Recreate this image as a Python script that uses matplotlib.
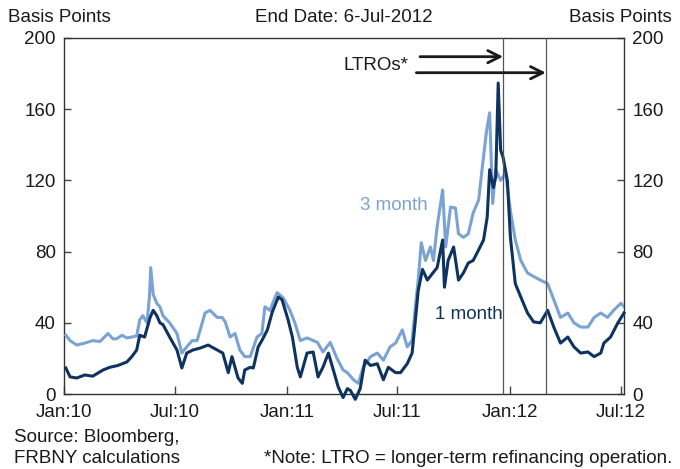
import matplotlib
matplotlib.use("Agg")
import matplotlib.pyplot as plt
import pandas as pd

plt.rcParams["font.family"] = ["Liberation Sans", "DejaVu Sans"]

# 3-month spread (basis points)
dates_3m = [
    "2010-01-04", "2010-01-11", "2010-01-22", "2010-02-04", "2010-02-17", "2010-03-01",
    "2010-03-14", "2010-03-22", "2010-03-28", "2010-04-06", "2010-04-14", "2010-04-22",
    "2010-04-30", "2010-05-05", "2010-05-10", "2010-05-17", "2010-05-21", "2010-05-23",
    "2010-05-27", "2010-06-02", "2010-06-07", "2010-06-12", "2010-06-23", "2010-07-05",
    "2010-07-13", "2010-07-21", "2010-07-30", "2010-08-07", "2010-08-12", "2010-08-20",
    "2010-08-28", "2010-09-09", "2010-09-17", "2010-09-22", "2010-09-30", "2010-10-08",
    "2010-10-16", "2010-10-24", "2010-11-02", "2010-11-13", "2010-11-21", "2010-11-26",
    "2010-12-04", "2010-12-16", "2010-12-26", "2011-01-06", "2011-01-14", "2011-01-23",
    "2011-02-03", "2011-02-20", "2011-03-01", "2011-03-13", "2011-03-24", "2011-04-03",
    "2011-04-10", "2011-04-20", "2011-04-28", "2011-05-06", "2011-05-18", "2011-05-29",
    "2011-06-08", "2011-06-19", "2011-06-28", "2011-07-09", "2011-07-17", "2011-07-25",
    "2011-07-30", "2011-08-04", "2011-08-09", "2011-08-16", "2011-08-24", "2011-08-29",
    "2011-09-04", "2011-09-13", "2011-09-18", "2011-09-26", "2011-10-04", "2011-10-09",
    "2011-10-17", "2011-10-25", "2011-11-02", "2011-11-11", "2011-11-17", "2011-11-24",
    "2011-11-29", "2011-12-04", "2011-12-09", "2011-12-17", "2011-12-25", "2012-01-02",
    "2012-01-10", "2012-01-19", "2012-01-30", "2012-02-09", "2012-02-20", "2012-03-03",
    "2012-03-13", "2012-03-24", "2012-04-05", "2012-04-15", "2012-04-26", "2012-05-08",
    "2012-05-18", "2012-05-29", "2012-06-09", "2012-06-19", "2012-07-01", "2012-07-06",
]
values_3m = [
    33, 30, 27.5, 28.6, 30, 29.5,
    34, 31, 31, 33, 31.5, 32,
    32.6, 41.6, 44, 40, 55, 71,
    56, 51, 49, 44, 40, 34,
    23, 26.5, 30, 30, 36, 45.5,
    47, 43, 43, 40.5, 32, 34,
    24.7, 21, 21, 32, 34, 49,
    47, 57, 54, 47, 40, 30,
    31.5, 29, 23.6, 29, 20, 13.5,
    12, 8, 6, 15, 21, 23,
    19, 26.5, 28.6, 36, 26.5, 30,
    48, 64, 85, 75, 82.6, 75,
    94, 114.6, 82.6, 105, 104.5, 90,
    88, 90, 101.7, 109, 127.5, 148,
    158, 107, 126, 120, 124, 103,
    86.5, 75, 68, 66, 64, 62,
    53, 43, 45.5, 40, 37.6, 37.6,
    43, 45.5, 43, 47, 51, 49,
]

# 1-month spread (basis points)
dates_1m = [
    "2010-01-04", "2010-01-11", "2010-01-22", "2010-02-04", "2010-02-17", "2010-03-06",
    "2010-03-17", "2010-03-30", "2010-04-14", "2010-04-22", "2010-04-30", "2010-05-05",
    "2010-05-13", "2010-05-22", "2010-05-27", "2010-06-02", "2010-06-07", "2010-06-12",
    "2010-06-23", "2010-07-05", "2010-07-13", "2010-07-21", "2010-07-31", "2010-08-12",
    "2010-08-25", "2010-09-09", "2010-09-18", "2010-09-27", "2010-10-03", "2010-10-13",
    "2010-10-20", "2010-10-24", "2010-11-02", "2010-11-07", "2010-11-15", "2010-11-21",
    "2010-11-30", "2010-12-08", "2010-12-18", "2010-12-24", "2011-01-03", "2011-01-10",
    "2011-01-18", "2011-01-23", "2011-02-03", "2011-02-13", "2011-02-21", "2011-03-01",
    "2011-03-10", "2011-03-18", "2011-03-26", "2011-04-03", "2011-04-10", "2011-04-15",
    "2011-04-23", "2011-05-01", "2011-05-09", "2011-05-18", "2011-05-29", "2011-06-08",
    "2011-06-16", "2011-06-28", "2011-07-06", "2011-07-17", "2011-07-25", "2011-07-30",
    "2011-08-04", "2011-08-11", "2011-08-19", "2011-08-28", "2011-09-04", "2011-09-13",
    "2011-09-16", "2011-09-22", "2011-10-01", "2011-10-09", "2011-10-17", "2011-10-25",
    "2011-11-02", "2011-11-11", "2011-11-19", "2011-11-25", "2011-11-29", "2011-12-05",
    "2011-12-09", "2011-12-13", "2011-12-17", "2011-12-21", "2011-12-28", "2012-01-02",
    "2012-01-10", "2012-01-19", "2012-01-30", "2012-02-09", "2012-02-20", "2012-03-03",
    "2012-03-13", "2012-03-24", "2012-04-05", "2012-04-15", "2012-04-26", "2012-05-08",
    "2012-05-18", "2012-05-29", "2012-06-03", "2012-06-14", "2012-06-26", "2012-07-06",
]
values_1m = [
    14.6, 9.6, 9, 10.7, 10, 13.5,
    15, 16, 18, 21, 24.7, 33,
    32, 43, 47, 44, 40, 39,
    32, 24.7, 14.6, 23, 24.7, 25.8,
    27.5, 24.7, 23, 12, 21, 9,
    6, 13.5, 15, 14.6, 26.5, 30,
    36, 46, 54.5, 53, 41.6, 32,
    15, 9.6, 23, 23.6, 9.6, 15,
    23, 13.5, 4, -2, 3, 2,
    -3, 3, 19, 16, 17, 8,
    15, 12, 12, 17, 23, 40,
    58, 70, 64, 68, 71, 86.5,
    60, 75, 82.6, 64, 68, 73.6,
    75, 81, 86.5, 99.4, 126, 116,
    122, 174.7, 137, 133, 120, 88,
    62, 54.5, 45.5, 40.5, 40, 47,
    37.6, 28.6, 32, 26.5, 23, 23.6,
    21, 23, 28.6, 32, 40, 45.5,
]

ltro_dates = ["2011-12-21", "2012-02-29"]
tick_dates = ["2010-01-01", "2010-07-01", "2011-01-01", "2011-07-01", "2012-01-01", "2012-07-01"]
tick_labels = ["Jan:10", "Jul:10", "Jan:11", "Jul:11", "Jan:12", "Jul:12"]
y_ticks = [0, 40, 80, 120, 160, 200]

light = "#7aa3d3"
dark = "#0f3360"
txt = "#1a1a1a"
fs = 13.5

fig = plt.figure(figsize=(6.8, 4.69), dpi=100)
ax = fig.add_axes([64 / 680, 75 / 469, 560 / 680, 356 / 469])

d3 = pd.to_datetime(dates_3m)
d1 = pd.to_datetime(dates_1m)
ax.plot(d3, values_3m, color=light, lw=2.2, solid_joinstyle="round", zorder=3)
ax.plot(d1, values_1m, color=dark, lw=2.2, solid_joinstyle="round", zorder=4, clip_on=False)

ax.set_xlim(pd.Timestamp("2010-01-01"), pd.Timestamp("2012-07-06"))
ax.set_ylim(0, 200)

for d in ltro_dates:
    ax.axvline(pd.Timestamp(d), color="#555555", lw=0.9, zorder=5)

# arrows pointing at each LTRO allotment date
arrow_props = dict(arrowstyle="->", color="#1a1a1a", lw=2.0, mutation_scale=22,
                   shrinkA=0, shrinkB=0)
ax.annotate("", xy=(pd.Timestamp(ltro_dates[0]), 189.5),
            xytext=(pd.Timestamp("2011-08-07"), 189.5), arrowprops=arrow_props, zorder=6)
ax.annotate("", xy=(pd.Timestamp(ltro_dates[1]), 180.5),
            xytext=(pd.Timestamp("2011-08-01"), 180.5), arrowprops=arrow_props, zorder=6)
ax.text(pd.Timestamp("2011-04-03"), 184.5, "LTROs*", fontsize=fs, color=txt,
        ha="left", va="center")

ax.text(pd.Timestamp("2011-05-01"), 106, "3 month", fontsize=fs, color=light,
        ha="left", va="center")
ax.text(pd.Timestamp("2011-09-01"), 44.5, "1 month", fontsize=fs, color=dark,
        ha="left", va="center")

ax.set_xticks(pd.to_datetime(tick_dates))
ax.set_xticklabels(tick_labels)
ax.set_yticks(y_ticks)
ax.set_yticklabels([str(v) for v in y_ticks])
ax.tick_params(axis="y", which="both", direction="in", length=5, width=1,
               left=True, right=True, labelleft=True, labelright=True,
               labelsize=fs, labelcolor=txt, color="#444444", pad=6)
ax.tick_params(axis="x", direction="in", length=6, width=1, labelsize=fs,
               labelcolor=txt, color="#444444", pad=7)
for sp in ax.spines.values():
    sp.set_color("#333333")
    sp.set_linewidth(1.0)

fig.text(8 / 680, 1 - 17 / 469, "Basis Points", fontsize=fs, color=txt, ha="left", va="center")
fig.text(672 / 680, 1 - 17 / 469, "Basis Points", fontsize=fs, color=txt, ha="right", va="center")
fig.text(344 / 680, 1 - 17 / 469, "End Date: 6-Jul-2012", fontsize=fs, color=txt,
         ha="center", va="center")
fig.text(14 / 680, 1 - 437 / 469, "Source: Bloomberg,", fontsize=fs, color=txt,
         ha="left", va="center")
fig.text(14 / 680, 1 - 458 / 469, "FRBNY calculations", fontsize=fs, color=txt,
         ha="left", va="center")
fig.text(672 / 680, 1 - 458 / 469, "*Note: LTRO = longer-term refinancing operation.",
         fontsize=fs, color=txt, ha="right", va="center")

fig.savefig("out.png", dpi=100)
